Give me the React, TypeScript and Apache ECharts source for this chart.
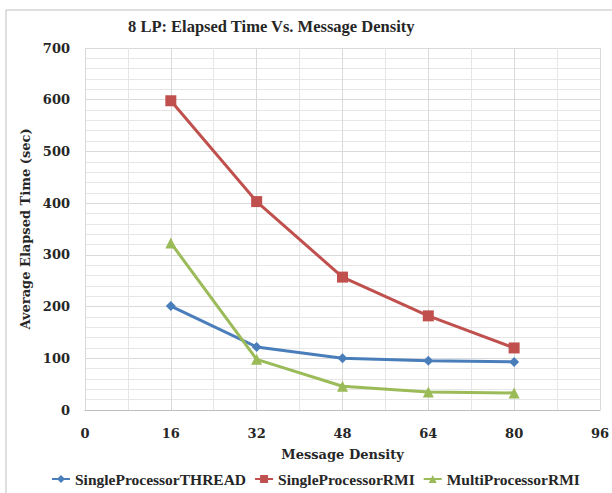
import React, { useEffect, useRef } from "react";
import * as echarts from "echarts";

const xValues = [16, 32, 48, 64, 80];
const singleThread = [201, 122, 100, 95, 93];
const singleRMI = [598, 403, 257, 182, 120];
const multiRMI = [323, 98, 46, 35, 33];
const seriesNames = ["SingleProcessorTHREAD", "SingleProcessorRMI", "MultiProcessorRMI"];

const FONT = "'Liberation Serif', 'DejaVu Serif', serif";
const FONT2 = "'DejaVu Serif', serif";

export default function App() {
  const ref = useRef<HTMLDivElement>(null);
  useEffect(() => {
    if (!ref.current) return;
    const chart = echarts.init(ref.current, null, { renderer: "svg" });
    const mk = (vals: number[]) => xValues.map((x, i) => [x, vals[i]]);
    chart.setOption({
      animation: false,
      backgroundColor: "#ffffff",
      title: {
        text: "8 LP: Elapsed Time Vs. Message Density",
        left: 123,
        top: 13,
        textStyle: { fontFamily: FONT, fontWeight: "bold", fontSize: 16.5, color: "#262626" },
      },
      graphic: [
        {
          type: "rect",
          shape: { x: 6, y: 10, width: 640, height: 520 },
          style: { fill: "none", stroke: "#bfbfbf", lineWidth: 1 },
          silent: true,
        },
      ],
      grid: { left: 85, right: 7, top: 48, bottom: 83, containLabel: false },
      legend: {
        bottom: 1,
        left: 46,
        width: 570,
        itemGap: 8,
        itemWidth: 18,
        itemHeight: 10,
        textStyle: { fontFamily: FONT, fontWeight: "bold", fontSize: 15.5, color: "#262626" },
        data: seriesNames,
      },
      xAxis: {
        type: "value",
        min: 0,
        max: 96,
        interval: 16,
        name: "Message Density",
        nameLocation: "middle",
        nameGap: 38,
        nameTextStyle: { fontFamily: FONT2, fontWeight: "bold", fontSize: 13, color: "#262626" },
        axisLine: { show: true, lineStyle: { color: "#bfbfbf" } },
        axisTick: { show: false },
        axisLabel: { fontFamily: FONT2, fontWeight: "bold", fontSize: 13, color: "#262626", margin: 17 },
        splitLine: { show: true, lineStyle: { color: "#d9d9d9" } },
        minorSplitLine: { show: true, lineStyle: { color: "#e6e6e6" } },
        minorTick: { show: false, splitNumber: 2 },
      },
      yAxis: {
        type: "value",
        min: 0,
        max: 700,
        interval: 100,
        name: "Average Elapsed Time (sec)",
        nameLocation: "middle",
        nameGap: 48,
        nameTextStyle: { fontFamily: FONT2, fontWeight: "bold", fontSize: 13, color: "#262626" },
        axisLine: { show: false },
        axisTick: { show: false },
        axisLabel: { fontFamily: FONT2, fontWeight: "bold", fontSize: 13, color: "#262626", margin: 15 },
        splitLine: { show: true, lineStyle: { color: "#d9d9d9" } },
        minorSplitLine: { show: true, lineStyle: { color: "#e6e6e6" } },
        minorTick: { show: false, splitNumber: 5 },
      },
      series: [
        {
          name: seriesNames[0],
          type: "line",
          data: mk(singleThread),
          symbol: "diamond",
          symbolSize: 10,
          lineStyle: { width: 3, color: "#4A7EBB" },
          itemStyle: { color: "#4A7EBB" },
        },
        {
          name: seriesNames[1],
          type: "line",
          data: mk(singleRMI),
          symbol: "rect",
          symbolSize: 11,
          lineStyle: { width: 3, color: "#C0504D" },
          itemStyle: { color: "#C0504D" },
        },
        {
          name: seriesNames[2],
          type: "line",
          data: mk(multiRMI),
          symbol: "triangle",
          symbolSize: 11,
          lineStyle: { width: 3, color: "#9BBB59" },
          itemStyle: { color: "#9BBB59" },
        },
      ],
    });
    return () => chart.dispose();
  }, []);
  return (
    <div
      ref={ref}
      style={{ position: "fixed", left: 0, top: 0, width: 612, height: 493 }}
    />
  );
}
